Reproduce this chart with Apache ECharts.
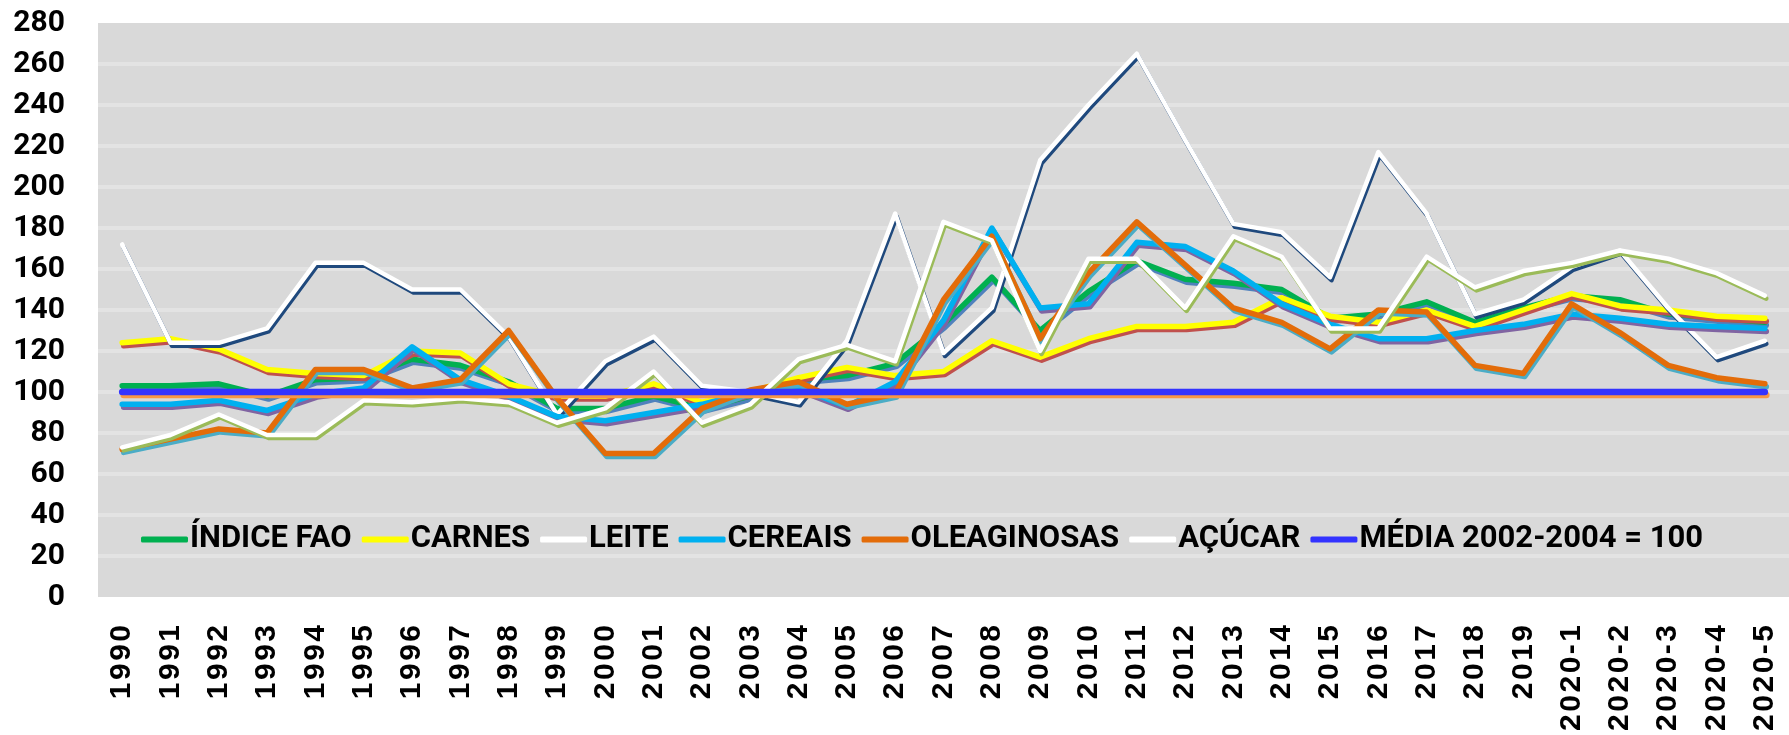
<!DOCTYPE html>
<html>
<head>
<meta charset="utf-8">
<script src="https://cdn.jsdelivr.net/npm/echarts@6/dist/echarts.min.js"></script>
<style>
html,body{margin:0;padding:0;background:#fff;}
#chart{width:1789px;height:735px;}
</style>
</head>
<body>
<div id="chart"></div>
<script>
const categories = ['1990','1991','1992','1993','1994','1995','1996','1997','1998','1999',
  '2000','2001','2002','2003','2004','2005','2006','2007','2008','2009',
  '2010','2011','2012','2013','2014','2015','2016','2017','2018','2019',
  '2020-1','2020-2','2020-3','2020-4','2020-5'];

const indiceFao = [103,103,104,98,106,107,116,113,105,92,
  92,98,92,98,106,108,114,133,156,130,
  149,164,155,153,150,136,138,144,134,141,
  147,145,138,136,134];
const carnes = [124,126,121,111,109,108,120,119,104,98,
  98,104,95,100,107,112,108,110,125,117,
  126,132,132,134,146,137,134,140,132,140,
  148,142,140,137,136];
const leite = [172,124,124,131,163,163,150,150,127,89,
  115,127,103,100,95,125,187,119,141,213,
  240,265,223,182,178,156,217,187,138,145,
  161,169,141,117,125];
const cereais = [94,94,96,91,99,102,122,106,98,88,
  86,90,94,100,102,93,105,135,180,141,
  143,173,171,159,143,133,126,126,130,133,
  138,136,133,132,131];
const oleaginosas = [72,77,82,80,111,111,102,106,130,97,
  70,70,92,101,105,94,99,145,176,126,
  158,183,162,141,134,121,140,139,113,109,
  143,129,113,107,104];
const acucar = [73,79,89,79,79,96,95,97,95,85,
  92,110,85,94,116,123,115,183,174,120,
  165,165,141,176,166,131,131,166,151,159,
  163,169,165,158,147];
const media = [100,100,100,100,100,100,100,100,100,100,
  100,100,100,100,100,100,100,100,100,100,
  100,100,100,100,100,100,100,100,100,100,
  100,100,100,100,100];

const seriesNames = ['ÍNDICE FAO','CARNES','LEITE','CEREAIS','OLEAGINOSAS','AÇÚCAR','MÉDIA 2002-2004 = 100'];
const yMin = 0, yMax = 280, yStep = 20;

const seriesData = [indiceFao, carnes, leite, cereais, oleaginosas, acucar, media];
const lineColors = ['#00B050','#FFFF00','#FFFFFF','#00B0F0','#E36C09','#FFFFFF','#3333FF'];
const shadowColors = ['#4F81BD','#C0504D','#1F497D','#8064A2','#4BACC6','#9BBB59','#F79646'];
const lineWidths = [5.5,5.5,4.5,5.5,5.5,4.5,6.5];

const chart = echarts.init(document.getElementById('chart'), null, {renderer:'canvas'});

const series = seriesNames.map((name, i) => ({
  name: name,
  type: 'line',
  data: seriesData[i],
  symbol: 'none',
  smooth: false,
  z: 2 + i,
  itemStyle: { color: lineColors[i] },
  lineStyle: {
    color: lineColors[i],
    width: lineWidths[i],
    cap: 'round',
    join: 'round',
    shadowColor: shadowColors[i],
    shadowBlur: 0,
    shadowOffsetX: 1.5,
    shadowOffsetY: 3
  },
  emphasis: { disabled: true },
  animation: false
}));

const HAIR = '\u200A';

chart.setOption({
  animation: false,
  backgroundColor: '#ffffff',
  grid: {
    left: 98, top: 23, width: 1697, bottom: 138,
    show: true, backgroundColor: '#d9d9d9', borderWidth: 0,
    containLabel: false
  },
  legend: {
    data: seriesNames,
    left: 136, top: 519,
    icon: 'roundRect',
    itemWidth: 47, itemHeight: 6,
    itemGap: 10,
    textStyle: { fontFamily: 'Roboto', fontWeight: 'bold', fontSize: 31, color: '#000', padding: [0,0,0,-3] },
    selectedMode: false
  },
  xAxis: {
    type: 'category',
    data: categories,
    boundaryGap: true,
    axisLine: { show: false },
    axisTick: { show: false },
    splitLine: { show: false },
    axisLabel: {
      interval: 0, rotate: 90, margin: 28,
      fontFamily: 'Liberation Sans', fontWeight: 'bold', fontSize: 30, color: '#000',
      formatter: v => v.split('').join(HAIR)
    }
  },
  yAxis: {
    type: 'value',
    min: yMin, max: yMax, interval: yStep,
    axisLine: { show: false },
    axisTick: { show: false },
    axisLabel: { margin: 33, fontFamily: 'Roboto', fontWeight: 'bold', fontSize: 30, color: '#000' },
    splitLine: { show: true, showMinLine: false, showMaxLine: false, lineStyle: { color: '#e3e3e3', width: 4 } }
  },
  series: series
});
</script>
</body>
</html>
